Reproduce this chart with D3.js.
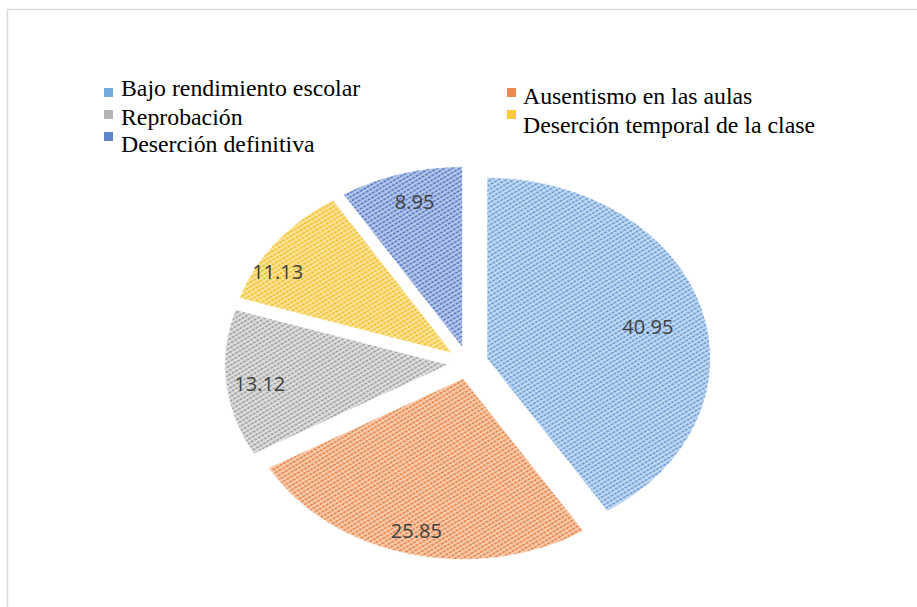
<!DOCTYPE html>
<html>
<head>
<meta charset="utf-8">
<script src="https://cdn.jsdelivr.net/npm/d3@7"></script>
<style>
  body { margin: 0; background: #fff; }
  svg { display: block; }
</style>
</head>
<body>
<script>
// datos del gráfico
const categorias = ['Bajo rendimiento escolar', 'Ausentismo en las aulas', 'Reprobación',
    'Deserción temporal de la clase', 'Deserción definitiva'];
const valores = [40.95, 25.85, 13.12, 11.13, 8.95];
const etiquetas = ['40.95', '25.85', '13.12', '11.13', '8.95'];

const colores = ['#5f95d4', '#e87a38', '#989898', '#f2ba1c', '#4a72c2'];
const fondos = ['#c8dcf3', '#f9d0b4', '#e2e2e2', '#fde6a0', '#bccbeb'];
const muestras = ['#74a9dd', '#ec8a52', '#b4b4b4', '#fcca3a', '#5f86cc'];

const width = 917, height = 607;
const cx = 468, cy = 363, r = 181, sx = 1.235, explode = 16;
// posición radial de cada etiqueta (fracción del radio)
const labelFrac = [0.74, 0.87, 0.85, 0.9, 0.83];
const labelShift = [0.05, 0, -0.02, -0.14, 0.02];

const svg = d3.select('body').append('svg')
    .attr('width', width)
    .attr('height', height);

// borde del área del gráfico
svg.append('rect')
    .attr('x', 7.5).attr('y', 9.5)
    .attr('width', 1000).attr('height', 800)
    .attr('fill', 'none')
    .attr('stroke', '#d9d9d9')
    .attr('stroke-width', 1.5);

// tramas
const defs = svg.append('defs');
colores.forEach((c, i) => {
    const p = defs.append('pattern')
        .attr('id', 'trama' + i)
        .attr('patternUnits', 'userSpaceOnUse')
        .attr('width', 7).attr('height', 3.6)
        .attr('patternTransform', 'rotate(-36)');
    p.append('rect').attr('width', 7).attr('height', 3.6).attr('fill', fondos[i]);
    p.append('line')
        .attr('x1', 0).attr('y1', 1.2).attr('x2', 7).attr('y2', 1.2)
        .attr('stroke', c).attr('stroke-width', 1.6)
        .attr('stroke-dasharray', '2.6 0.9');
});

const pie = d3.pie().sort(null).value(d => d);
const arcs = pie(valores);
const arc = d3.arc().innerRadius(0).outerRadius(r);

const offset = d => {
    const a = (d.startAngle + d.endAngle) / 2;
    return [explode * Math.sin(a), -explode * Math.cos(a)];
};

const g = svg.append('g')
    .attr('transform', `translate(${cx},${cy}) scale(${sx},1)`);

g.selectAll('path.slice')
    .data(arcs)
    .enter().append('path')
    .attr('class', 'slice')
    .attr('transform', d => 'translate(' + offset(d) + ')')
    .attr('d', arc)
    .attr('fill', (d, i) => 'url(#trama' + i + ')')
    .attr('stroke', '#ffffff')
    .attr('stroke-width', 0.6);

// etiquetas de datos
const labelPos = (d, i) => {
    const o = offset(d);
    const a = (d.startAngle + d.endAngle) / 2 + labelShift[i];
    const lr = r * labelFrac[i];
    return [cx + sx * (o[0] + lr * Math.sin(a)), cy + o[1] - lr * Math.cos(a)];
};
svg.selectAll('text.valor')
    .data(arcs)
    .enter().append('text')
    .attr('class', 'valor')
    .attr('x', (d, i) => labelPos(d, i)[0])
    .attr('y', (d, i) => labelPos(d, i)[1])
    .attr('dy', '0.35em')
    .attr('text-anchor', 'middle')
    .style('font-family', '"Open Sans", "Noto Sans", sans-serif')
    .style('font-size', '20px')
    .style('fill', '#404040')
    .text((d, i) => etiquetas[i]);

// leyenda
const leyenda = [
    { i: 0, sq: [104, 88], tx: [121, 96] },
    { i: 2, sq: [104, 110], tx: [121, 125] },
    { i: 4, sq: [104, 132], tx: [121, 152] },
    { i: 1, sq: [507, 88], tx: [523, 104] },
    { i: 3, sq: [507, 110], tx: [523, 133] }
];
const lg = svg.append('g').attr('class', 'legend');
leyenda.forEach(l => {
    lg.append('rect')
        .attr('x', l.sq[0]).attr('y', l.sq[1])
        .attr('width', 9).attr('height', 9)
        .attr('fill', muestras[l.i]);
    lg.append('text')
        .attr('x', l.tx[0]).attr('y', l.tx[1])
        .style('font-family', '"Liberation Serif", "Times New Roman", serif')
        .style('font-size', '23.8px')
        .style('fill', '#000')
        .text(categorias[l.i]);
});
</script>
</body>
</html>
